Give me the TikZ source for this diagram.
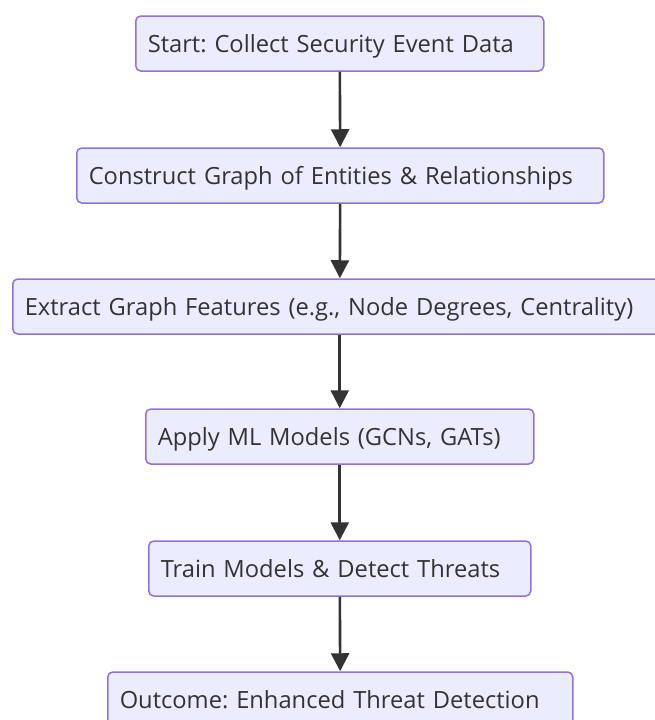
\documentclass[tikz,border=0pt]{standalone}
\usepackage{fontspec}
\setmainfont{Open Sans}
\usepackage{tikz}
\usetikzlibrary{arrows.meta}
\frenchspacing
\definecolor{boxfill}{HTML}{ECECFF}
\definecolor{boxline}{HTML}{9370DB}
\definecolor{ink}{HTML}{333333}
\tikzstyle{flow}=[x=1pt, y=-1pt, font=\fontsize{23.7}{28}\selectfont, text=ink]
\tikzstyle{stepbox}=[rectangle, rounded corners=5pt, draw=boxline, line width=1.5pt, fill=boxfill, minimum height=55pt, inner xsep=12pt, text depth=0pt, align=left, anchor=west]
\tikzstyle{link}=[-{Triangle[width=18pt,length=18pt]}, draw=ink, line width=2.6pt]
\newcommand{\boxY}{27.5}

\begin{document}
\begin{tikzpicture}[flow]
		\useasboundingbox (0,0) rectangle (655,720);
		%The boxes, left edge and width
		\node[stepbox, text width=384pt] (collect) at (135,16+\boxY) {Start: Collect Security Event Data};
		\node[stepbox, text width=503pt] (construct) at (76,148+\boxY) {Construct Graph of Entities \& Relationships};
		\node[stepbox, text width=630pt] (extract) at (12,279+\boxY) {Extract Graph Features (e.g., Node Degrees, Centrality)};
		\node[stepbox, text width=364pt] (apply) at (145,409+\boxY) {Apply ML Models (GCNs, GATs)};
		\node[stepbox, text width=358pt] (train) at (148,541+\boxY) {Train Models \& Detect Threats};
		\node[stepbox, text width=441pt] (outcome) at (107,672+\boxY) {Outcome: Enhanced Threat Detection};
		
		%The arrows
		\draw[link] (collect) -- (construct);
		\draw[link] (construct) -- (extract);
		\draw[link] (extract) -- (apply);
		\draw[link] (apply) -- (train);
		\draw[link] (train) -- (outcome);
\end{tikzpicture}
\end{document}
